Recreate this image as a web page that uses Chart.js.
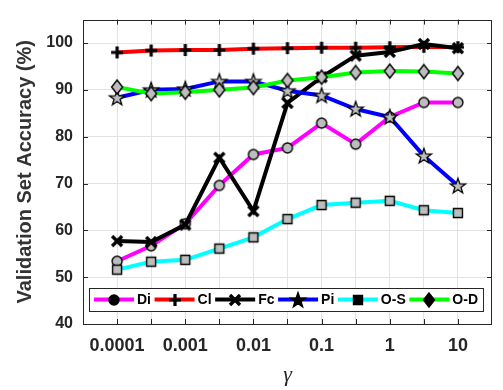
<!DOCTYPE html>
<html><head><meta charset="utf-8">
<script src="https://cdn.jsdelivr.net/npm/chart.js@4/dist/chart.umd.min.js"></script>
<style>html,body{margin:0;padding:0;background:#fff;overflow:hidden}#wrap{width:503px;height:390px}</style>
</head><body><div id="wrap"><canvas id="c" width="503" height="390"></canvas></div>
<script>
// ---- data ----
const gammaValues = [0.0001, 0.000316, 0.001, 0.00316, 0.01, 0.0316, 0.1, 0.316, 1, 3.16, 10];
const xTickLabels = ['0.0001', '', '0.001', '', '0.01', '', '0.1', '', '1', '', '10'];
const yTickValues = [40, 50, 60, 70, 80, 90, 100];
const seriesNames = ['Di', 'Cl', 'Fc', 'Pi', 'O-S', 'O-D'];
const diAcc = [53.4, 56.7, 61.4, 69.6, 76.2, 77.6, 82.9, 78.4, 84.2, 87.3, 87.3];
const clAcc = [98.0, 98.4, 98.5, 98.5, 98.8, 98.9, 99.0, 99.0, 99.1, 99.2, 99.1];
const fcAcc = [57.7, 57.5, 61.2, 75.5, 64.1, 87.2, 92.7, 97.3, 98.1, 99.8, 98.9];
const piAcc = [88.3, 90.0, 90.2, 91.8, 91.8, 89.8, 88.8, 85.9, 84.2, 75.9, 69.5];
const osAcc = [51.6, 53.3, 53.7, 56.1, 58.5, 62.4, 65.4, 65.9, 66.3, 64.3, 63.7];
const odAcc = [90.6, 89.2, 89.5, 90.0, 90.5, 92.0, 92.7, 93.7, 94.0, 93.9, 93.5];

const seriesValues = [diAcc, clAcc, fcAcc, piAcc, osAcc, odAcc];
const lineColors = ['#ff00ff', '#ff0000', '#000000', '#0000ff', '#00ffff', '#00ff00'];
const markerTypes = ['circle', 'plus', 'x', 'star', 'square', 'diamond'];

// ---- marker images ----
function makeMarker(type, fill, stroke) {
  const s = 20, c = document.createElement('canvas');
  c.width = s; c.height = s;
  const g = c.getContext('2d'), m = s / 2;
  g.strokeStyle = stroke; g.fillStyle = fill; g.lineJoin = 'miter';
  if (type === 'circle') {
    g.beginPath(); g.arc(m, m, 5, 0, Math.PI * 2); g.fill(); g.lineWidth = 1.4; g.stroke();
  } else if (type === 'plus') {
    g.lineWidth = 3.2; g.beginPath();
    g.moveTo(m - 6, m); g.lineTo(m + 6, m); g.moveTo(m, m - 6); g.lineTo(m, m + 6); g.stroke();
  } else if (type === 'x') {
    g.lineWidth = 3.4; g.beginPath();
    g.moveTo(m - 5, m - 5); g.lineTo(m + 5, m + 5); g.moveTo(m + 5, m - 5); g.lineTo(m - 5, m + 5); g.stroke();
  } else if (type === 'star') {
    g.beginPath();
    for (let k = 0; k < 10; k++) {
      const a = -Math.PI / 2 + k * Math.PI / 5, r = k % 2 ? 3.2 : 8;
      const px = m + r * Math.cos(a), py = m + 0.5 + r * Math.sin(a);
      k ? g.lineTo(px, py) : g.moveTo(px, py);
    }
    g.closePath(); g.fill(); g.lineWidth = 1.3; g.stroke();
  } else if (type === 'square') {
    g.beginPath(); g.rect(m - 4.5, m - 4.5, 9, 9); g.fill(); g.lineWidth = 1.4; g.stroke();
  } else if (type === 'diamond') {
    g.beginPath(); g.moveTo(m, m - 7); g.lineTo(m + 5.5, m); g.lineTo(m, m + 7); g.lineTo(m - 5.5, m); g.closePath();
    g.fill(); g.lineWidth = 1.4; g.stroke();
  }
  return c;
}
const plotMarkers = markerTypes.map(t => makeMarker(t, '#bdbdbd', '#000'));
const legendMarkers = markerTypes.map(t => makeMarker(t, '#000', '#000'));

const datasets = seriesNames.map((name, i) => ({
  label: name,
  data: gammaValues.map((g, j) => ({ x: g, y: seriesValues[i][j] })),
  borderColor: lineColors[i],
  backgroundColor: lineColors[i],
  borderWidth: 4,
  pointStyle: plotMarkers[i],
  pointRadius: 7,
  tension: 0,
  order: seriesNames.length - 1 - i,
  clip: false
}));

const AXIS = '#262626';
const GRID = '#e3e3e3';

const frame = {
  id: 'frame',
  afterDatasetsDraw(chart) {
    const { ctx, chartArea: a, scales: { x, y } } = chart;
    ctx.save();
    ctx.strokeStyle = AXIS; ctx.lineWidth = 1;
    ctx.beginPath();
    x.ticks.forEach(t => {
      const px = Math.round(x.getPixelForValue(t.value)) + 0.5;
      ctx.moveTo(px, a.bottom); ctx.lineTo(px, a.bottom - 5);
      ctx.moveTo(px, a.top); ctx.lineTo(px, a.top + 5);
    });
    y.ticks.forEach(t => {
      const py = Math.round(y.getPixelForValue(t.value)) + 0.5;
      ctx.moveTo(a.left, py); ctx.lineTo(a.left + 5, py);
      ctx.moveTo(a.right, py); ctx.lineTo(a.right - 5, py);
    });
    ctx.stroke();
    ctx.strokeRect(Math.round(a.left) + 0.5, Math.round(a.top) + 0.5, Math.round(a.right - a.left) - 1, Math.round(a.bottom - a.top));
    ctx.restore();
  }
};

const boxLegend = {
  id: 'boxLegend',
  afterDraw(chart) {
    const { ctx, chartArea: a } = chart;
    const left = a.left + 6, right = a.right - 9, bottom = a.bottom - 13, top = bottom - 23;
    const cy = (top + bottom) / 2;
    ctx.save();
    ctx.fillStyle = '#fff';
    ctx.fillRect(left, top, right - left, bottom - top);
    ctx.strokeStyle = AXIS; ctx.lineWidth = 1;
    ctx.strokeRect(Math.round(left) + 0.5, Math.round(top) + 0.5, Math.round(right - left), Math.round(bottom - top));
    ctx.font = 'bold 14px "Liberation Sans", Arial, sans-serif';
    ctx.textBaseline = 'middle';
    const lineLen = 40, gap = 3;
    const widths = chart.data.datasets.map(d => ctx.measureText(d.label).width);
    const used = widths.reduce((s, w) => s + w + lineLen + gap, 0);
    const spare = (right - left - 10 - used) / (widths.length - 1);
    let xPos = left + 5;
    chart.data.datasets.forEach((d, i) => {
      ctx.strokeStyle = d.borderColor; ctx.lineWidth = 4;
      ctx.beginPath(); ctx.moveTo(xPos, cy); ctx.lineTo(xPos + lineLen, cy); ctx.stroke();
      const mk = legendMarkers[i];
      ctx.drawImage(mk, Math.round(xPos + lineLen / 2 - mk.width / 2), Math.round(cy - mk.height / 2));
      ctx.fillStyle = '#000';
      ctx.fillText(d.label, xPos + lineLen + gap, cy + 1);
      xPos += lineLen + gap + widths[i] + spare;
    });
    ctx.restore();
  }
};

new Chart(document.getElementById('c'), {
  type: 'line',
  data: { datasets },
  options: {
    responsive: false,
    animation: false,
    devicePixelRatio: 1,
    layout: { padding: { top: 6, right: 1, left: 0, bottom: 0 } },
    plugins: { legend: { display: false }, tooltip: { enabled: false } },
    scales: {
      x: {
        type: 'logarithmic',
        min: 3.162e-5,
        max: 31.62,
        afterBuildTicks: s => { s.ticks = gammaValues.map(v => ({ value: v })); },
        afterFit: s => { s.height = 66; },
        ticks: {
          autoSkip: false, maxRotation: 0, minRotation: 0, padding: 11,
          color: AXIS,
          font: { family: '"Liberation Sans", Arial, sans-serif', size: 18, weight: 'bold' },
          callback: (v, i) => xTickLabels[i]
        },
        grid: { color: GRID, drawTicks: false },
        border: { display: false },
        title: {
          display: true, text: 'γ', color: AXIS,
          font: { family: '"Liberation Serif", "Times New Roman", serif', size: 22, style: 'italic' },
          padding: { top: 0, bottom: 2 }
        }
      },
      y: {
        min: 40,
        max: 105,
        afterBuildTicks: s => { s.ticks = yTickValues.map(v => ({ value: v })); },
        afterFit: s => { s.width = 83; },
        ticks: {
          padding: 10, color: AXIS,
          font: { family: '"Liberation Sans", Arial, sans-serif', size: 16, weight: 'bold' }
        },
        grid: { color: GRID, drawTicks: false },
        border: { display: false },
        title: {
          display: true, text: 'Validation Set Accuracy (%)', color: '#333',
          font: { family: '"Liberation Sans", Arial, sans-serif', size: 20, weight: 'bold' },
          padding: { top: 13, bottom: 0 }
        }
      }
    }
  },
  plugins: [frame, boxLegend]
});
</script>
</body></html>
